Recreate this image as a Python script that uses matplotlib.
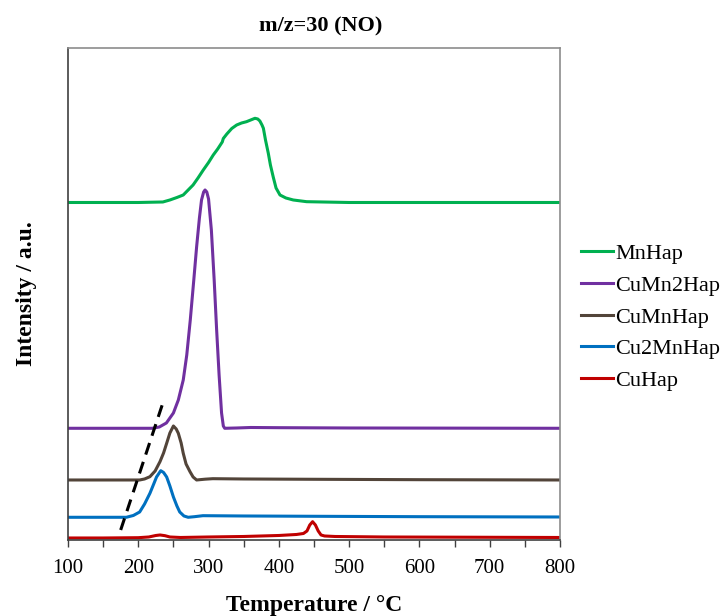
import matplotlib
matplotlib.use('Agg')
import matplotlib.pyplot as plt

plt.rcParams['font.family'] = ['Liberation Serif', 'DejaVu Serif']
plt.rcParams['mathtext.fontset'] = 'stix'

# series (temperature in C, intensity in arbitrary offset units)
t_mn = [100, 200, 235, 245, 255, 264, 271, 278, 285, 292.5, 300, 306.7, 313, 319.5, 321, 326, 333, 340,
        347, 354, 360, 366, 370, 373, 376, 378, 381, 385, 388, 392, 396, 401.6, 410, 420.5, 439.5, 500, 600, 800]
y_mn = [337.5, 337.5, 338, 340, 342.5, 345, 350, 355, 362, 370, 377.5, 385, 391, 398, 401.5, 406, 411.5, 415,
        417, 418.3, 420, 421.7, 421, 419, 415, 411.7, 400, 386.7, 375, 363, 352, 345, 342, 340, 338.3, 337.5, 337.5, 337.5]

t_cumn2 = [100, 220, 230, 240, 250, 257, 264, 269, 274, 279, 283, 287, 290, 293, 295, 297.5, 300, 304, 308,
           311.5, 315, 318.5, 321, 323, 340, 360, 400, 500, 800]
y_cumn2 = [111.7, 111.7, 113, 117, 127, 140, 160, 185, 220, 260, 293, 322, 340, 348, 350, 348, 341, 310, 260,
           210, 165, 127, 114, 111.7, 112, 112.5, 112.3, 112, 111.7]

t_cumn = [100, 202, 209, 216.6, 224, 230.9, 236, 240.4, 245, 250, 254, 257, 261, 264, 268, 273.6, 278, 283,
          295, 306, 350, 450, 600, 800]
y_cumn = [60, 60, 61, 63.3, 69, 78.3, 87, 96.7, 107, 114, 111, 106.7, 97, 86.7, 76, 68.3, 63, 60,
          60.8, 61.3, 61, 60.7, 60.3, 60]

t_cu2mn = [100, 183, 193, 202, 209, 216.6, 222, 226, 232, 236, 240.4, 245, 250, 255, 259, 265, 271, 280,
           292, 350, 450, 600, 800]
y_cu2mn = [22.7, 22.7, 24.5, 28, 36, 46.7, 56, 63, 69.3, 67.5, 63, 54, 43, 34, 28, 24, 22.7, 23.3,
           24.3, 24, 23.7, 23.3, 23]

t_cu = [100, 150, 200, 215, 225, 231, 238, 245, 260, 300, 350, 400, 425, 435, 440, 444, 448, 452, 456, 460,
        465, 480, 550, 650, 800]
y_cu = [2, 2, 2.3, 3, 4.5, 5, 4.3, 3, 2.5, 3, 3.5, 4.5, 5.5, 6.5, 9, 15, 18.3, 15, 9, 5,
        4, 3.5, 3, 2.8, 2.5]

t_dash = [175, 235]
y_dash = [10, 137]

names = ['MnHap', 'CuMn2Hap', 'CuMnHap', 'Cu2MnHap', 'CuHap']
colors = ['#00B050', '#7030A0', '#524439', '#0070C0', '#C00000']
xticks = list(range(100, 801, 50))
xticklabels = [str(t) if t % 100 == 0 else '' for t in xticks]

fig = plt.figure(figsize=(7.23, 6.16), dpi=100)
ax = fig.add_axes([0.094, 0.1234, 0.6806, 0.7987])

series = [(t_mn, y_mn), (t_cumn2, y_cumn2), (t_cumn, y_cumn), (t_cu2mn, y_cu2mn), (t_cu, y_cu)]
for (tt, yy), name, col in zip(series, names, colors):
    ax.plot(tt, yy, color=col, lw=2.2, label=name, solid_joinstyle='round')

ax.plot(t_dash, y_dash, color='black', lw=2.2, ls=(0, (4, 2.5)))

ax.set_xlim(100, 800)
ax.set_ylim(0, 492)
ax.set_xticks(xticks)
ax.set_xticklabels(xticklabels, fontsize=15)
ax.set_yticks([])
ax.tick_params(axis='x', direction='out', length=5, width=1, color='#404040', pad=9)

ax.spines['left'].set_color('#404040')
ax.spines['bottom'].set_color('#404040')
ax.spines['top'].set_color('#8c8c8c')
ax.spines['right'].set_color('#8c8c8c')
for s in ax.spines.values():
    s.set_linewidth(1.2)

ax.set_title('m/z=30 (NO)', fontsize=16, fontweight='bold', pad=12, x=0.513)
ax.set_xlabel('Temperature / °C', fontsize=17, fontweight='bold', labelpad=12)
ax.set_ylabel('Intensity / a.u.', fontsize=17, fontweight='bold', labelpad=22)

fig.legend(loc='center left', bbox_to_anchor=(0.788, 0.485), frameon=False, fontsize=16,
           handlelength=1.45, handletextpad=0.1, labelspacing=0.5, borderpad=0)

fig.savefig('out.png', dpi=100)
